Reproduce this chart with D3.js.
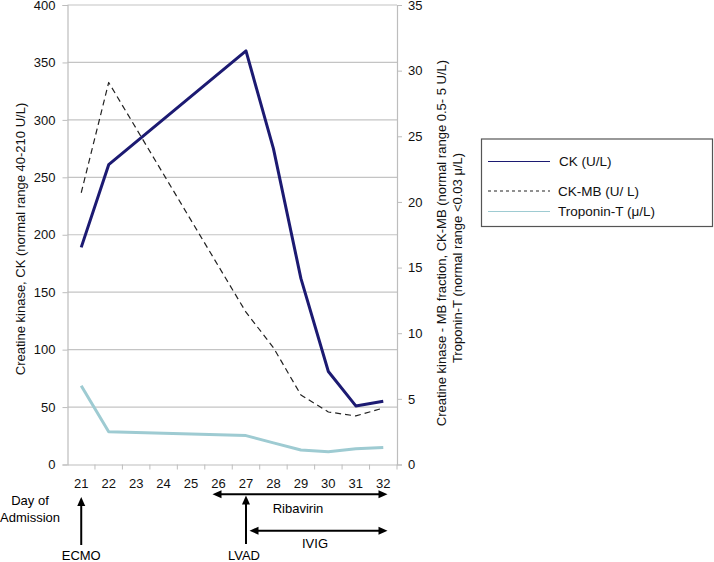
<!DOCTYPE html>
<html><head><meta charset="utf-8">
<script src="https://cdn.jsdelivr.net/npm/d3@7"></script>
<style>
html,body{margin:0;padding:0;background:#fff;}
text{font-family:"Liberation Sans",Arial,sans-serif;}
</style></head>
<body><svg id="c" width="714" height="562"></svg>
<script>
const days = [21,22,23,24,25,26,27,28,29,30,31,32];
const ck   = [189,261,null,null,null,null,360,275,162,81,51,55];
const ckmb = [20.7,29.1,null,null,null,null,11.6,8.9,5.3,4.0,3.7,4.3];
const tropT= [6.0,2.5,null,null,null,null,2.2,1.65,1.1,0.97,1.2,1.3];
const leftTicks = [0,50,100,150,200,250,300,350,400];
const rightTicks = [0,5,10,15,20,25,30,35];
const legendItems = ["CK (U/L)","CK-MB (U/ L)","Troponin-T (\u03bc/L)"];

const svg = d3.select("#c");
const L=67.5, R=397, T=5, B=464.5;
const x = d3.scaleBand().domain(days).range([L,R]);
const yL = d3.scaleLinear().domain([0,400]).range([B,T]);
const yR = d3.scaleLinear().domain([0,35]).range([B,T]);
const cx = d => x(d)+x.bandwidth()/2;

// gridlines
svg.append("g").selectAll("line").data(leftTicks.filter(d=>d>0)).join("line")
  .attr("x1",L).attr("x2",R).attr("y1",d=>yL(d)).attr("y2",d=>yL(d))
  .attr("stroke","#c4c4c4").attr("stroke-width",1.2);

// left axis
const gl = svg.append("g").attr("transform",`translate(${L},0)`)
  .call(d3.axisLeft(yL).tickValues(leftTicks).tickSize(5).tickPadding(7));
gl.select(".domain").attr("stroke","#bdbdbd").attr("stroke-width",1.2);
gl.selectAll(".tick line").attr("stroke","#bdbdbd");
gl.selectAll("text").attr("font-size",13).attr("fill","#111").attr("font-family","Liberation Sans, Arial");

// right axis
const gr = svg.append("g").attr("transform",`translate(${R},0)`)
  .call(d3.axisRight(yR).tickValues(rightTicks).tickSize(5).tickPadding(6));
gr.select(".domain").attr("stroke","#bdbdbd").attr("stroke-width",1.2);
gr.selectAll(".tick line").attr("stroke","#bdbdbd");
gr.selectAll("text").attr("font-size",13).attr("fill","#111").attr("font-family","Liberation Sans, Arial");

// bottom axis
const gb = svg.append("g").attr("transform",`translate(0,${B})`)
  .call(d3.axisBottom(x).tickSize(0).tickPadding(14));
gb.select(".domain").attr("stroke","#bdbdbd").attr("stroke-width",1.2);
gb.selectAll("text").attr("font-size",13).attr("fill","#111").attr("font-family","Liberation Sans, Arial");
svg.append("g").selectAll("line").data(days).join("line")
  .attr("x1",d=>x(d)+x.bandwidth()).attr("x2",d=>x(d)+x.bandwidth())
  .attr("y1",B).attr("y2",B+5).attr("stroke","#bdbdbd");

// lines
function drawLine(vals, scale, color, width, dash){
  const pts = days.map((d,i)=>[d,vals[i]]).filter(p=>p[1]!==null);
  svg.append("path").datum(pts)
    .attr("d", d3.line().x(p=>cx(p[0])).y(p=>scale(p[1])))
    .attr("fill","none").attr("stroke",color).attr("stroke-width",width)
    .attr("stroke-linejoin","round").attr("stroke-dasharray",dash||null);
}
drawLine(tropT, yR, "#9ecbd2", 3);
drawLine(ckmb, yR, "#222", 1.2, "6,4");
drawLine(ck, yL, "#1c1a72", 3);

// axis titles
svg.append("text").attr("transform",`translate(25,239) rotate(-90)`)
  .attr("text-anchor","middle").attr("font-size",13).attr("fill","#111")
  .text("Creatine kinase, CK (normal range 40-210 U/L)");
svg.append("text").attr("transform",`translate(446,243) rotate(-90)`)
  .attr("text-anchor","middle").attr("font-size",13).attr("fill","#111")
  .text("Creatine kinase - MB fraction, CK-MB (normal range 0.5- 5 U/L)");
svg.append("text").attr("transform",`translate(462,258) rotate(-90)`)
  .attr("text-anchor","middle").attr("font-size",13).attr("fill","#111")
  .text("Troponin-T (normal range <0.03 \u03bc/L)");

// legend
const lg = svg.append("g");
lg.append("rect").attr("x",481.5).attr("y",139).attr("width",231).attr("height",87.5)
  .attr("fill","#fff").attr("stroke","#555").attr("stroke-width",1.2);
const lgStyles = [["#1c1a72",null],["#222","3,3"],["#9ecbd2",null]];
const lgY = [161.5,191,211.5];
legendItems.forEach((t,i)=>{
  lg.append("line").attr("x1",488).attr("x2",550).attr("y1",lgY[i]).attr("y2",lgY[i])
    .attr("stroke",lgStyles[i][0]).attr("stroke-width",1.1).attr("stroke-dasharray",lgStyles[i][1]);
  lg.append("text").attr("x",i==0?559:558).attr("y",lgY[i]).attr("dy","0.35em")
    .attr("font-size",13.5).attr("font-family","Lato, 'Open Sans', sans-serif").attr("fill","#111").text(t);
});

// annotations
function arrowHead(xTip,yTip,dir){
  let p;
  if(dir==='up') p=[[xTip,yTip],[xTip-4,yTip+9],[xTip+4,yTip+9]];
  if(dir==='left') p=[[xTip,yTip],[xTip+9,yTip-4],[xTip+9,yTip+4]];
  if(dir==='right') p=[[xTip,yTip],[xTip-9,yTip-4],[xTip-9,yTip+4]];
  svg.append("path").attr("d","M"+p.map(q=>q.join(",")).join("L")+"Z").attr("fill","#000");
}
const ann = svg.append("g");
ann.append("text").attr("x",30).attr("y",500).attr("dy","0.35em").attr("text-anchor","middle").attr("font-size",13).text("Day of");
ann.append("text").attr("x",30).attr("y",517).attr("dy","0.35em").attr("text-anchor","middle").attr("font-size",13).text("Admission");
// ECMO
ann.append("line").attr("x1",cx(21)).attr("x2",cx(21)).attr("y1",505).attr("y2",545).attr("stroke","#000").attr("stroke-width",2);
arrowHead(cx(21),497,'up');
ann.append("text").attr("x",cx(21)).attr("y",555).attr("dy","0.35em").attr("text-anchor","middle").attr("font-size",13).text("ECMO");
// LVAD
ann.append("line").attr("x1",cx(27)).attr("x2",cx(27)).attr("y1",503).attr("y2",544).attr("stroke","#000").attr("stroke-width",2);
arrowHead(cx(27),495.5,'up');
ann.append("text").attr("x",cx(27)-2).attr("y",555.5).attr("dy","0.35em").attr("text-anchor","middle").attr("font-size",13).text("LVAD");
// Ribavirin
ann.append("line").attr("x1",219).attr("x2",381).attr("y1",494.3).attr("y2",494.3).attr("stroke","#000").attr("stroke-width",2);
arrowHead(212.5,494.3,'left'); arrowHead(387.5,494.3,'right');
ann.append("text").attr("x",298).attr("y",508).attr("dy","0.35em").attr("text-anchor","middle").attr("font-size",13).text("Ribavirin");
// IVIG
ann.append("line").attr("x1",256).attr("x2",381).attr("y1",530.7).attr("y2",530.7).attr("stroke","#000").attr("stroke-width",2);
arrowHead(249.5,530.7,'left'); arrowHead(387.5,530.7,'right');
ann.append("text").attr("x",315).attr("y",543.5).attr("dy","0.35em").attr("text-anchor","middle").attr("font-size",13).text("IVIG");
</script></body></html>
